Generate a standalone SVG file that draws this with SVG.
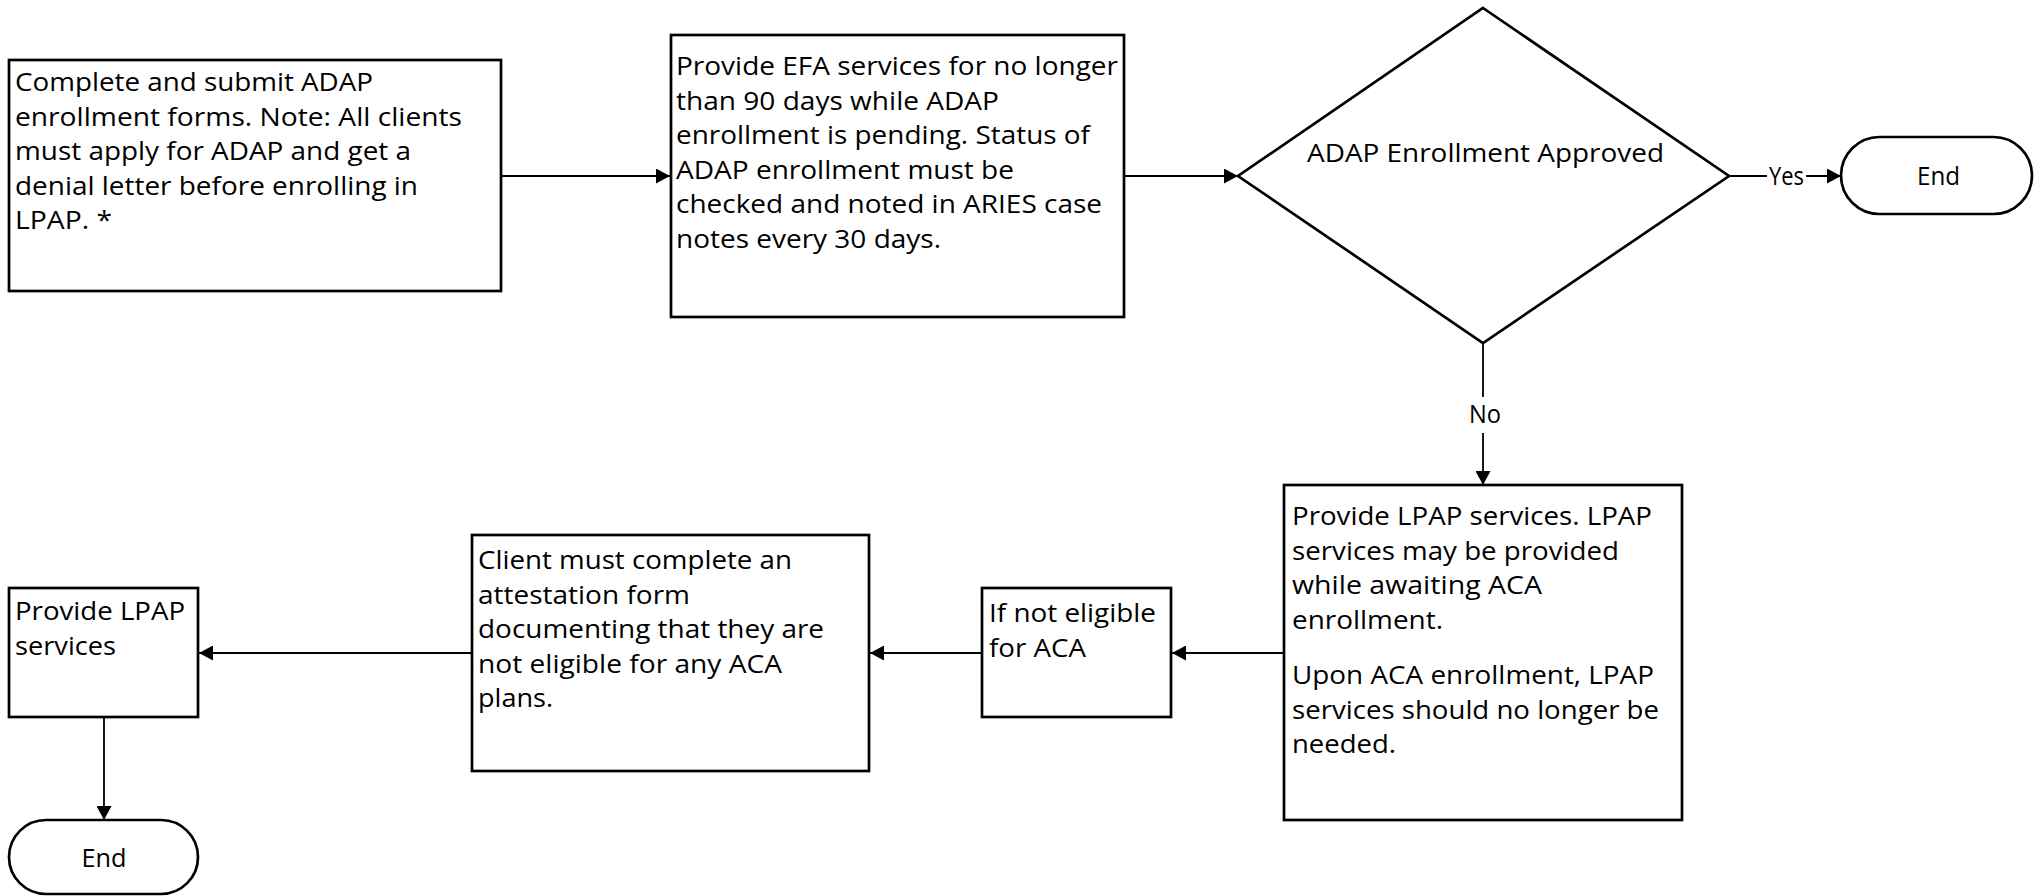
<svg xmlns="http://www.w3.org/2000/svg" width="2038" height="896" viewBox="0 0 2038 896">
<style>
.shape{fill:#ffffff;stroke:#000000;stroke-width:2.7}
.t{font-family:"Open Sans","Noto Sans","Liberation Sans",sans-serif;font-size:25px;fill:#000000}
.c{text-anchor:middle}
.conn{fill:none;stroke:#000000;stroke-width:1.8}
</style>
<defs>
<marker id="arr" markerUnits="userSpaceOnUse" markerWidth="15" markerHeight="15" refX="14" refY="7.5" orient="auto">
<path d="M0,0 L14,7.5 L0,15 z" fill="#000000"/>
</marker>
</defs>
<rect width="2038" height="896" fill="#ffffff"/>

<g id="connectors">
<line class="conn" x1="501" y1="176" x2="670" y2="176" marker-end="url(#arr)"/>
<line class="conn" x1="1124" y1="176" x2="1238" y2="176" marker-end="url(#arr)"/>
<line class="conn" x1="1729" y1="176" x2="1841" y2="176" marker-end="url(#arr)"/>
<rect x="1767" y="164" width="39" height="24" fill="#ffffff"/>
<text class="t" x="1769" y="185" textLength="35" lengthAdjust="spacingAndGlyphs">Yes</text>
<line class="conn" x1="1483" y1="343" x2="1483" y2="485" marker-end="url(#arr)"/>
<rect x="1467" y="397" width="34" height="36" fill="#ffffff"/>
<text class="t" x="1469" y="423" textLength="32" lengthAdjust="spacingAndGlyphs">No</text>
<line class="conn" x1="1284" y1="653" x2="1172" y2="653" marker-end="url(#arr)"/>
<line class="conn" x1="982" y1="653" x2="870" y2="653" marker-end="url(#arr)"/>
<line class="conn" x1="472" y1="653" x2="199" y2="653" marker-end="url(#arr)"/>
<line class="conn" x1="104" y1="717" x2="104" y2="820" marker-end="url(#arr)"/>
</g>

<g id="node-submit">
<rect class="shape" x="9" y="60" width="492" height="231"/>
<text class="t" x="15" y="91" textLength="358" lengthAdjust="spacingAndGlyphs">Complete and submit ADAP</text>
<text class="t" x="15" y="125.6" textLength="447" lengthAdjust="spacingAndGlyphs">enrollment forms. Note: All clients</text>
<text class="t" x="15" y="160.2" textLength="396" lengthAdjust="spacingAndGlyphs">must apply for ADAP and get a</text>
<text class="t" x="15" y="194.8" textLength="403" lengthAdjust="spacingAndGlyphs">denial letter before enrolling in</text>
<text class="t" x="15" y="229.4" textLength="97" lengthAdjust="spacingAndGlyphs">LPAP. *</text>
</g>

<g id="node-efa">
<rect class="shape" x="671" y="35" width="453" height="282"/>
<text class="t" x="676" y="75" textLength="442" lengthAdjust="spacingAndGlyphs">Provide EFA services for no longer</text>
<text class="t" x="676" y="109.6" textLength="323" lengthAdjust="spacingAndGlyphs">than 90 days while ADAP</text>
<text class="t" x="676" y="144.2" textLength="414" lengthAdjust="spacingAndGlyphs">enrollment is pending. Status of</text>
<text class="t" x="676" y="178.8" textLength="338" lengthAdjust="spacingAndGlyphs">ADAP enrollment must be</text>
<text class="t" x="676" y="213.4" textLength="426" lengthAdjust="spacingAndGlyphs">checked and noted in ARIES case</text>
<text class="t" x="676" y="248" textLength="265" lengthAdjust="spacingAndGlyphs">notes every 30 days.</text>
</g>

<g id="node-decision">
<polygon class="shape" points="1483,8 1729,176 1483,343 1238,176"/>
<text class="t" x="1307" y="162" textLength="357" lengthAdjust="spacingAndGlyphs">ADAP Enrollment Approved</text>
</g>

<g id="node-end-top">
<rect class="shape" x="1841" y="137" width="191" height="77" rx="38.5" ry="38.5"/>
<text class="t c" x="1938.5" y="185" textLength="43" lengthAdjust="spacingAndGlyphs">End</text>
</g>

<g id="node-lpap">
<rect class="shape" x="1284" y="485" width="398" height="335"/>
<text class="t" x="1292" y="525" textLength="360" lengthAdjust="spacingAndGlyphs">Provide LPAP services. LPAP</text>
<text class="t" x="1292" y="559.6" textLength="327" lengthAdjust="spacingAndGlyphs">services may be provided</text>
<text class="t" x="1292" y="594.2" textLength="250" lengthAdjust="spacingAndGlyphs">while awaiting ACA</text>
<text class="t" x="1292" y="628.8" textLength="151" lengthAdjust="spacingAndGlyphs">enrollment.</text>
<text class="t" x="1292" y="684" textLength="362" lengthAdjust="spacingAndGlyphs">Upon ACA enrollment, LPAP</text>
<text class="t" x="1292" y="718.6" textLength="367" lengthAdjust="spacingAndGlyphs">services should no longer be</text>
<text class="t" x="1292" y="753.2" textLength="104" lengthAdjust="spacingAndGlyphs">needed.</text>
</g>

<g id="node-not-eligible">
<rect class="shape" x="982" y="588" width="189" height="129"/>
<text class="t" x="989" y="622" textLength="167" lengthAdjust="spacingAndGlyphs">If not eligible</text>
<text class="t" x="989" y="656.6" textLength="97" lengthAdjust="spacingAndGlyphs">for ACA</text>
</g>

<g id="node-attestation">
<rect class="shape" x="472" y="535" width="397" height="236"/>
<text class="t" x="478" y="569" textLength="314" lengthAdjust="spacingAndGlyphs">Client must complete an</text>
<text class="t" x="478" y="603.6" textLength="212" lengthAdjust="spacingAndGlyphs">attestation form</text>
<text class="t" x="478" y="638.2" textLength="346" lengthAdjust="spacingAndGlyphs">documenting that they are</text>
<text class="t" x="478" y="672.8" textLength="304" lengthAdjust="spacingAndGlyphs">not eligible for any ACA</text>
<text class="t" x="478" y="707.4" textLength="75" lengthAdjust="spacingAndGlyphs">plans.</text>
</g>

<g id="node-provide-lpap">
<rect class="shape" x="9" y="588" width="189" height="129"/>
<text class="t" x="15" y="620" textLength="170" lengthAdjust="spacingAndGlyphs">Provide LPAP</text>
<text class="t" x="15" y="654.6" textLength="101" lengthAdjust="spacingAndGlyphs">services</text>
</g>

<g id="node-end-bottom">
<rect class="shape" x="9" y="820" width="189" height="74" rx="37" ry="37"/>
<text class="t c" x="104" y="867" textLength="45" lengthAdjust="spacingAndGlyphs">End</text>
</g>
</svg>
